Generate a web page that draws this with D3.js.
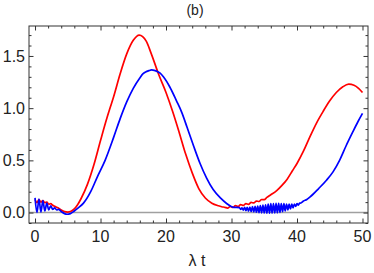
<!DOCTYPE html>
<html>
<head>
<meta charset="utf-8">
<script src="https://cdn.jsdelivr.net/npm/d3@7"></script>
<style>
  html, body { margin: 0; padding: 0; background: #fff; }
  svg { display: block; }
  text { font-family: "Liberation Sans", Arial, sans-serif; fill: #222; }
</style>
</head>
<body>
<svg id="chart" width="374" height="273"></svg>
<script>
// ---- data ----
const title = "(b)";
const xLabel = "λ t";
const xTicks = [0, 10, 20, 30, 40, 50];
const yTicks = [0.0, 0.5, 1.0, 1.5];
const yTickLabels = ["0.0", "0.5", "1.0", "1.5"];

// red series: [t, value]
const redT = [0,0.3,0.6,0.9,1.2,1.5,1.8,2.1,2.4,2.7,3,3.5,4,4.5,5,5.5,6,6.5,7,8,9,10,11,11.5,12,13,14,15,15.9,17,17.7,18.9,20,21,22,23,24,25,26,27,28,28.5,29,29.4,29.8,30.2,30.6,31,31.4,31.8,32.2,32.6,33,33.4,33.8,34.2,34.6,35,35.4,36,36.9,37.7,38.5,39.3,40,41,42,43,44,45,46,47,47.9,48.7,49.4,50];
const redY = [0.125,0.095,0.125,0.1,0.115,0.095,0.1,0.08,0.085,0.07,0.06,0.045,0.025,0.01,0.005,0.012,0.035,0.075,0.13,0.27,0.46,0.69,0.91,1.01,1.11,1.33,1.52,1.65,1.70,1.64,1.53,1.32,1.15,0.97,0.77,0.56,0.38,0.23,0.14,0.09,0.065,0.056,0.05,0.043,0.058,0.05,0.066,0.058,0.076,0.068,0.086,0.079,0.097,0.092,0.11,0.106,0.125,0.124,0.145,0.17,0.21,0.26,0.32,0.4,0.47,0.59,0.73,0.86,0.97,1.07,1.15,1.205,1.23,1.22,1.19,1.15];

// blue series: [t, value]
const blueT = [0,0.3,0.6,0.9,1.2,1.5,1.8,2.1,2.4,2.7,3,3.3,3.6,4,4.5,4.9,5.4,6,6.5,7.4,8.5,9.5,10.7,12,13,14,15,16,16.5,17,17.4,17.8,18.2,18.7,19.1,19.6,20.6,21.6,22.4,23.2,24.2,25.2,26.2,27.2,28.3,29.3,30.3,
  31.2,31.4,31.6,31.8,32,32.2,32.4,32.6,32.8,33,33.2,33.4,33.6,33.8,34,34.2,34.4,34.6,34.8,35,35.2,35.4,35.6,35.8,36,36.2,36.4,36.6,36.8,37,37.2,37.4,37.6,37.8,38,38.2,38.4,38.6,38.8,39,39.2,39.4,39.6,39.8,40,40.2,40.4,40.6,
  41,41.5,42,43.3,44.5,45.5,46.5,47.5,48.5,49.3,50];
const blueY = [0.14,0.0,0.13,0.005,0.115,0.015,0.09,0.025,0.065,0.03,0.045,0.025,0.03,0.01,-0.01,-0.016,-0.01,0.015,0.04,0.09,0.2,0.34,0.5,0.72,0.9,1.06,1.19,1.29,1.33,1.35,1.36,1.366,1.362,1.35,1.335,1.30,1.2,1.07,0.96,0.82,0.64,0.47,0.33,0.22,0.14,0.085,0.05,
  0.048,0.03,0.046,0.024,0.049,0.018,0.051,0.013,0.053,0.01,0.056,0.006,0.06,0.003,0.063,0.0,0.067,-0.003,0.071,-0.004,0.075,-0.006,0.08,-0.006,0.085,-0.005,0.087,-0.004,0.088,-0.002,0.088,0.002,0.087,0.008,0.085,0.016,0.082,0.025,0.08,0.034,0.08,0.045,0.082,0.058,0.087,0.072,0.09,0.092,
  0.11,0.125,0.15,0.23,0.31,0.39,0.5,0.64,0.77,0.87,0.95];

// ---- layout ----
const svg = d3.select("#chart");
const frame = { left: 29, right: 368, top: 26, bottom: 223 };

const x = d3.scaleLinear().domain([-0.92, 50.84]).range([frame.left, frame.right]);
const y = d3.scaleLinear().domain([-0.1, 1.787]).range([frame.bottom, frame.top]);

// zero reference line
svg.append("line")
  .attr("x1", frame.left).attr("x2", frame.right)
  .attr("y1", y(0)).attr("y2", y(0))
  .attr("stroke", "#a0a0a0").attr("stroke-width", 1.5);

const line = d3.line().x(d => x(d[0])).y(d => y(d[1])).curve(d3.curveMonotoneX);

const redData = redT.map((t, i) => [t, redY[i]]);
const blueData = blueT.map((t, i) => [t, blueY[i]]);

svg.append("path").datum(redData)
  .attr("d", line).attr("fill", "none")
  .attr("stroke", "#ff0000").attr("stroke-width", 1.7).attr("stroke-linejoin", "round");
svg.append("path").datum(blueData)
  .attr("d", line).attr("fill", "none")
  .attr("stroke", "#0000ff").attr("stroke-width", 1.7).attr("stroke-linejoin", "round");

// frame
svg.append("rect")
  .attr("x", frame.left).attr("y", frame.top)
  .attr("width", frame.right - frame.left).attr("height", frame.bottom - frame.top)
  .attr("fill", "none").attr("stroke", "#333").attr("stroke-width", 1);

// ticks (inward), using axis generators
const xMajor = xTicks;
const xMinor = d3.range(0, 51, 2).filter(v => v % 10 !== 0);
const yMajor = yTicks;
const yMinor = d3.range(-1, 18).map(v => v / 10).filter(v => Math.round(v * 10) % 5 !== 0);

function tickAxis(gen, tr, vals, size) {
  const g = svg.append("g").attr("transform", tr)
    .call(gen.tickValues(vals).tickSize(size).tickFormat(""));
  g.select(".domain").remove();
  g.selectAll(".tick line").attr("stroke", "#333").attr("stroke-width", 1);
  g.selectAll(".tick text").remove();
}
tickAxis(d3.axisTop(x), `translate(0,${frame.bottom})`, xMajor, 4.5);
tickAxis(d3.axisTop(x), `translate(0,${frame.bottom})`, xMinor, 2.5);
tickAxis(d3.axisBottom(x), `translate(0,${frame.top})`, xMajor, 4.5);
tickAxis(d3.axisBottom(x), `translate(0,${frame.top})`, xMinor, 2.5);
tickAxis(d3.axisRight(y), `translate(${frame.left},0)`, yMajor, 4.5);
tickAxis(d3.axisRight(y), `translate(${frame.left},0)`, yMinor, 2.5);
tickAxis(d3.axisLeft(y), `translate(${frame.right},0)`, yMajor, 4.5);
tickAxis(d3.axisLeft(y), `translate(${frame.right},0)`, yMinor, 2.5);

// tick labels
svg.append("g").selectAll("text").data(xTicks).join("text")
  .attr("x", d => x(d)).attr("y", 242)
  .attr("text-anchor", "middle").attr("font-size", 16)
  .text(d => d);
svg.append("g").selectAll("text").data(yTicks).join("text")
  .attr("x", 25).attr("y", d => y(d) + 5.8)
  .attr("text-anchor", "end").attr("font-size", 16)
  .text((d, i) => yTickLabels[i]);

// title and axis label
svg.append("text").attr("x", 195).attr("y", 14.5)
  .attr("text-anchor", "middle").attr("font-size", 14).text(title);
svg.append("text").attr("x", 197).attr("y", 266)
  .attr("text-anchor", "middle").attr("font-size", 16).text(xLabel);
</script>
</body>
</html>
